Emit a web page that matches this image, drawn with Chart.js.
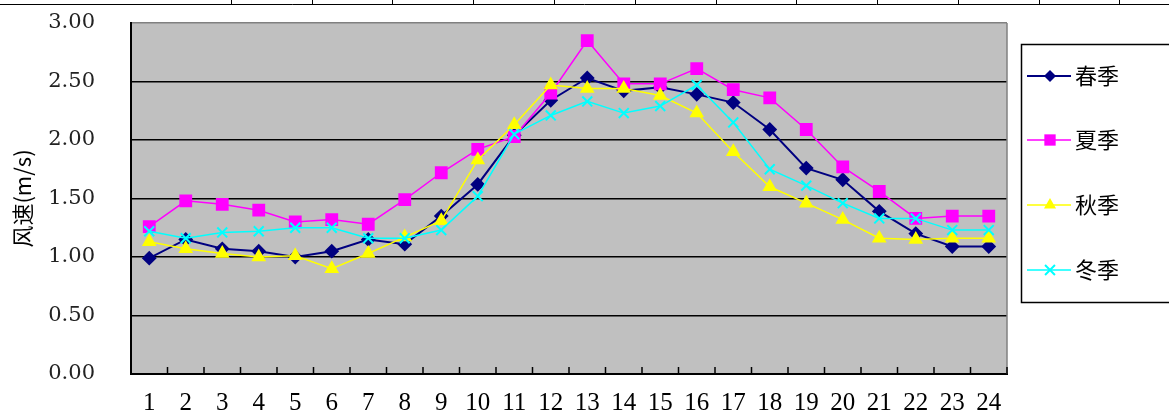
<!DOCTYPE html>
<html>
<head>
<meta charset="utf-8">
<script src="https://cdn.jsdelivr.net/npm/chart.js@4"></script>
<style>
  html, body { margin: 0; padding: 0; background: #fff; }
  canvas { display: block; }
</style>
</head>
<body>
<canvas id="windChart" width="1169" height="417"></canvas>
<script>
// hours of the day
const hours = ['1','2','3','4','5','6','7','8','9','10','11','12','13','14','15','16','17','18','19','20','21','22','23','24'];
const yTicks = [0, 0.5, 1, 1.5, 2, 2.5, 3];

// mean wind speed (m/s) per season
const spring = [0.99,1.15,1.07,1.05,1.00,1.05,1.15,1.11,1.35,1.62,2.04,2.34,2.53,2.42,2.45,2.39,2.32,2.09,1.76,1.66,1.39,1.20,1.09,1.09];
const summer = [1.26,1.48,1.45,1.40,1.30,1.32,1.28,1.49,1.72,1.92,2.03,2.40,2.85,2.48,2.48,2.61,2.43,2.36,2.09,1.77,1.56,1.33,1.35,1.35];
const autumn = [1.13,1.07,1.03,1.00,1.01,0.90,1.03,1.17,1.31,1.83,2.13,2.47,2.44,2.44,2.38,2.23,1.90,1.60,1.46,1.32,1.16,1.15,1.16,1.16];
const winter = [1.22,1.16,1.21,1.22,1.25,1.25,1.16,1.16,1.23,1.52,2.05,2.21,2.33,2.23,2.29,2.47,2.15,1.75,1.61,1.46,1.33,1.33,1.23,1.23];

const seasonNames = ['春季', '夏季', '秋季', '冬季'];

function marker(ctx, style, x, y, r, color) {
    ctx.save();
    ctx.fillStyle = color;
    ctx.strokeStyle = color;
    ctx.lineWidth = 2;
    ctx.beginPath();
    if (style === 'rectRot') {
        ctx.moveTo(x, y - r); ctx.lineTo(x + r, y); ctx.lineTo(x, y + r); ctx.lineTo(x - r, y);
        ctx.closePath(); ctx.fill();
    } else if (style === 'rect') {
        const s = r * Math.SQRT1_2;
        ctx.rect(x - s, y - s, 2 * s, 2 * s); ctx.fill();
    } else if (style === 'triangle') {
        ctx.moveTo(x, y - r); ctx.lineTo(x + r * 0.866, y + r * 0.5); ctx.lineTo(x - r * 0.866, y + r * 0.5);
        ctx.closePath(); ctx.fill();
    } else {
        const s = r * Math.SQRT1_2;
        ctx.moveTo(x - s, y - s); ctx.lineTo(x + s, y + s);
        ctx.moveTo(x + s, y - s); ctx.lineTo(x - s, y + s);
        ctx.stroke();
    }
    ctx.restore();
}

const excelLook = {
    id: 'excelLook',
    beforeDraw(chart) {
        const { ctx, chartArea: a } = chart;
        ctx.save();
        ctx.fillStyle = '#c0c0c0';
        ctx.fillRect(a.left, a.top, a.right - a.left, a.bottom - a.top);
        ctx.restore();
    },
    afterDraw(chart) {
        const { ctx, chartArea: a } = chart;
        const xs = chart.scales.x;
        ctx.save();
        // right border of plot area
        ctx.strokeStyle = '#808080';
        ctx.lineWidth = 1.5;
        ctx.beginPath();
        ctx.moveTo(a.right, a.top);
        ctx.lineTo(a.right, a.bottom);
        ctx.stroke();

        // small tick marks between categories, pointing up into the plot
        ctx.strokeStyle = '#000';
        ctx.lineWidth = 1.5;
        const half = (xs.getPixelForValue(1) - xs.getPixelForValue(0)) / 2;
        ctx.beginPath();
        for (let i = 0; i <= hours.length; i++) {
            const x = xs.getPixelForValue(i) - half;
            ctx.moveTo(x, a.bottom);
            ctx.lineTo(x, a.bottom - 7);
        }
        ctx.stroke();

        // table rule left above the chart
        ctx.lineWidth = 1;
        ctx.beginPath();
        ctx.moveTo(0, 4.5);
        ctx.lineTo(chart.width, 4.5);
        [231, 312, 392, 473, 554, 635, 716, 796, 877, 958, 1039, 1119].forEach(x => {
            ctx.moveTo(x + 0.5, 0);
            ctx.lineTo(x + 0.5, 4.5);
        });
        ctx.stroke();

        // legend
        ctx.lineWidth = 1.5;
        ctx.strokeRect(1021.5, 44.5, 200, 258);
        const rows = [76, 140, 205, 270];
        ctx.font = '22px "Noto Sans CJK SC"';
        ctx.textBaseline = 'middle';
        ctx.textAlign = 'left';
        chart.data.datasets.forEach((ds, i) => {
            const y = rows[i];
            ctx.strokeStyle = ds.borderColor;
            ctx.lineWidth = ds.borderWidth;
            ctx.beginPath();
            ctx.moveTo(1027, y);
            ctx.lineTo(1071, y);
            ctx.stroke();
            marker(ctx, ds.pointStyle, 1050, y, ds.pointRadius, ds.borderColor);
            ctx.fillStyle = '#000';
            ctx.fillText(ds.label, 1075, y);
        });
        ctx.restore();
    }
};

const ctx = document.getElementById('windChart').getContext('2d');
new Chart(ctx, {
    type: 'line',
    data: {
        labels: hours,
        datasets: [
            { label: seasonNames[0], data: spring, borderColor: '#000080', backgroundColor: '#000080',
              borderWidth: 2, pointStyle: 'rectRot', pointRadius: 6, order: 3 },
            { label: seasonNames[1], data: summer, borderColor: '#ff00ff', backgroundColor: '#ff00ff',
              borderWidth: 1.5, pointStyle: 'rect', pointRadius: 8, order: 2 },
            { label: seasonNames[2], data: autumn, borderColor: '#ffff00', backgroundColor: '#ffff00',
              borderWidth: 1.5, pointStyle: 'triangle', pointRadius: 7, order: 1 },
            { label: seasonNames[3], data: winter, borderColor: '#00ffff', backgroundColor: '#00ffff',
              borderWidth: 1.5, pointStyle: 'crossRot', pointRadius: 7, pointBorderWidth: 2, order: 0 }
        ]
    },
    options: {
        responsive: false,
        animation: false,
        layout: { padding: { left: 0, right: 162, top: 23, bottom: 0 } },
        elements: { line: { tension: 0 } },
        plugins: { legend: { display: false }, tooltip: { enabled: false } },
        scales: {
            x: {
                offset: true,
                grid: { display: true, drawOnChartArea: false, drawTicks: false },
                border: { color: '#000', width: 2 },
                ticks: { color: '#000', padding: 14, maxRotation: 0, autoSkip: false,
                         font: { family: 'Liberation Serif', size: 25 } },
                afterFit: s => { s.height = 43; }
            },
            y: {
                min: 0,
                max: 3,
                afterBuildTicks: s => { s.ticks = yTicks.map(v => ({ value: v })); },
                grid: { drawTicks: true, tickLength: 36, tickColor: 'rgba(0,0,0,0)', lineWidth: 1.5,
                        color: c => c.tick && c.tick.value === 3 ? '#808080' : '#000' },
                border: { color: '#000', width: 2 },
                ticks: { color: '#222', padding: 0, callback: v => v.toFixed(2),
                         font: { family: 'DejaVu Serif', size: 21 } },
                title: { display: true, text: '风速(m/s)', color: '#000', padding: { top: 9, bottom: 0 },
                         font: { family: 'Noto Sans CJK SC', size: 22 } },
                afterFit: s => { s.width = 131; }
            }
        }
    },
    plugins: [excelLook]
});
</script>
</body>
</html>
